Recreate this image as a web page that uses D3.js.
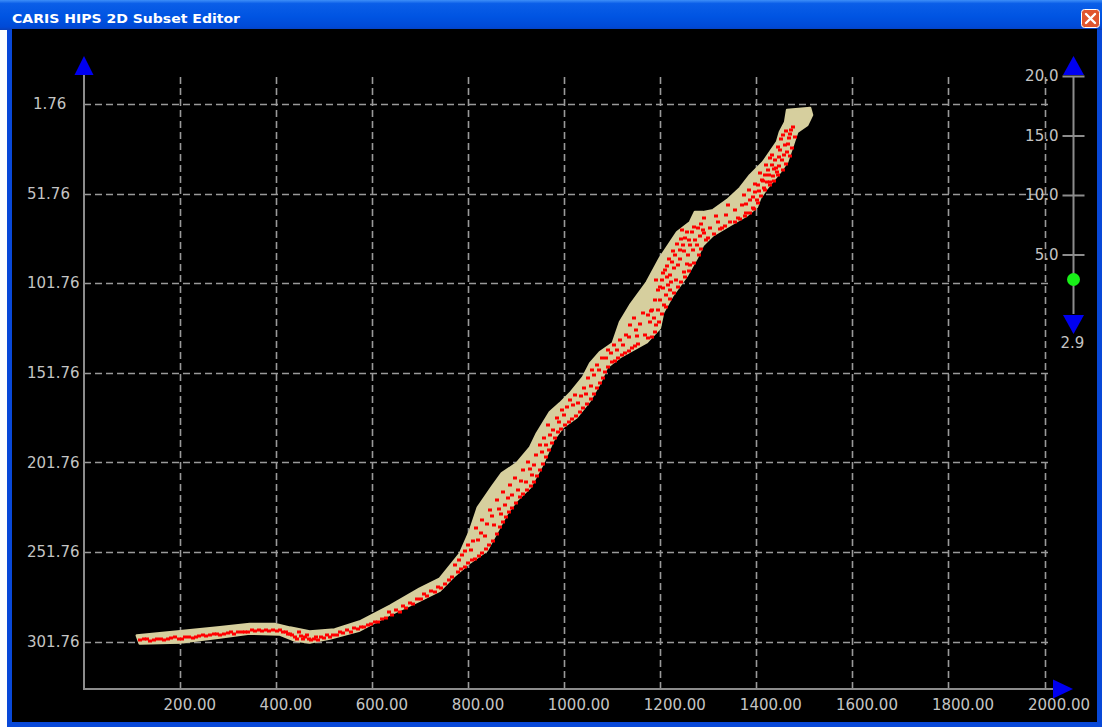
<!DOCTYPE html>
<html>
<head>
<meta charset="utf-8">
<script src="https://cdn.jsdelivr.net/npm/d3@7"></script>
<style>
  html, body { margin: 0; padding: 0; background: #ffffff; }
  svg { display: block; }
</style>
</head>
<body>
<svg id="editor" width="1102" height="727"></svg>
<script>
// ---- data -------------------------------------------------------------
const windowTitle = "CARIS HIPS 2D Subset Editor";

// horizontal axis: along-track distance
const distTicks = [200, 400, 600, 800, 1000, 1200, 1400, 1600, 1800, 2000];
// vertical axis: depth (grows downward)
const depthTicks = [1.76, 51.76, 101.76, 151.76, 201.76, 251.76, 301.76];
// threshold slider on the right
const sliderTicks = [5, 10, 15, 20];
const sliderValue = 2.9;

// outline of the accepted sounding cloud: shallow side, left to right
const cloudTop = [
  [110, 298.4], [200, 296.0], [283, 293.8], [345, 292.0], [397, 292.0],
  [429, 294.0], [470, 296.2], [522, 295.0], [574, 290.6], [637, 281.8],
  [699, 272.2], [741, 266.6], [783, 252.6], [804, 239.8], [820, 226.9],
  [849, 215.7], [870, 207.9], [901, 202.3], [929, 193.4], [943, 185.6],
  [970, 173.8], [991, 168.8], [1012, 163.2], [1039, 154.3], [1054, 146.5],
  [1074, 140.3], [1101, 135.3], [1116, 123.5], [1137, 114.1], [1172, 101.2],
  [1199, 87.8], [1235, 73.3], [1262, 67.7], [1272, 62.1], [1289, 62.1],
  [1310, 61.0], [1339, 55.4], [1366, 48.7], [1387, 41.4], [1414, 34.2],
  [1443, 23.0], [1449, 17.4], [1460, 11.8], [1464, 5.1], [1512, 4.0],
  [1516, 7.9]
];
// deep side, right to left
const cloudBottom = [
  [1506, 13.5], [1485, 17.4], [1476, 24.7], [1464, 34.2], [1449, 39.8],
  [1422, 48.7], [1408, 54.3], [1401, 59.3], [1381, 63.8], [1345, 69.4],
  [1310, 75.0], [1289, 80.5], [1276, 87.8], [1256, 97.3], [1241, 102.9],
  [1226, 108.5], [1206, 118.0], [1199, 126.9], [1172, 134.7], [1116, 143.1],
  [1089, 148.7], [1074, 157.6], [1054, 167.1], [1026, 176.6], [997, 182.2],
  [977, 189.5], [956, 202.3], [929, 215.7], [901, 223.0], [881, 230.3],
  [839, 250.9], [804, 257.6], [772, 264.9], [741, 273.3], [699, 278.9],
  [637, 286.7], [574, 295.6], [512, 300.1], [470, 302.3], [439, 301.2],
  [408, 297.9], [345, 297.3], [283, 299.5], [200, 302.3], [116, 302.9]
];

// selected (red) soundings: [distance, depth]
const nearshoreSel = [
  [117, 301.2], [131, 300.6], [146, 301.2], [160, 300.1], [175, 300.6],
  [190, 299.5], [204, 300.1], [219, 299.0], [233, 299.0], [248, 297.9],
  [262, 298.4], [277, 297.3], [292, 297.3], [306, 296.7], [321, 296.2],
  [335, 296.2], [350, 295.6], [364, 295.6], [379, 295.1], [394, 295.1],
  [408, 295.6], [421, 296.2], [429, 297.3], [439, 299.0], [448, 296.7],
  [456, 300.1], [465, 297.9], [473, 301.2], [483, 299.0], [494, 299.5],
  [506, 298.4], [519, 297.9], [533, 296.7], [548, 295.6], [562, 294.5],
  [577, 293.4], [591, 292.3], [606, 290.6], [621, 289.0], [635, 285.5],
  [650, 284.0], [664, 282.0], [679, 280.0], [694, 277.8], [708, 275.5],
  [723, 273.3], [737, 271.1],
  [124, 300.4], [138, 301.5], [153, 300.2], [167, 301.0], [182, 299.8],
  [197, 300.4], [211, 299.3], [226, 299.6], [240, 298.6], [255, 298.8],
  [270, 297.8], [284, 298.0], [299, 297.0], [313, 297.3], [328, 296.6],
  [342, 296.7], [357, 296.0], [371, 296.1], [386, 295.7], [401, 295.8],
  [414, 296.5], [425, 297.8], [434, 298.2], [444, 300.2], [452, 298.5],
  [460, 299.3], [469, 300.2], [478, 300.3], [488, 300.8], [500, 300.0],
  [512, 299.2], [526, 298.2], [540, 297.2], [555, 296.2], [570, 294.8],
  [584, 293.8], [598, 292.2], [613, 290.8], [628, 288.8], [642, 287.0],
  [657, 285.3], [671, 283.2], [686, 280.8], [701, 278.2], [715, 276.2],
  [730, 274.2], [744, 271.8]
];
const slopeSel = [
  [752, 269.4], [766, 266.0], [779, 263.2], [793, 259.9], [808, 256.5],
  [822, 254.3], [837, 250.4], [852, 245.9], [866, 238.1], [879, 232.0],
  [891, 227.5], [908, 221.3], [922, 217.4], [937, 212.9], [949, 206.3],
  [962, 199.0], [974, 191.2], [987, 185.0], [1002, 181.1], [1016, 177.8],
  [1033, 173.8], [1047, 169.4], [1062, 163.8], [1074, 157.6], [1085, 151.5],
  [1099, 145.9], [1112, 143.7], [1127, 140.9], [1141, 138.1], [1154, 135.8],
  [772, 259.3], [787, 253.7], [799, 248.1], [810, 245.4], [816, 238.6],
  [829, 234.2], [835, 242.6], [845, 228.6], [854, 237.0], [860, 223.0],
  [872, 218.5], [877, 225.8], [887, 214.6], [897, 210.7], [904, 217.4],
  [914, 206.3], [924, 201.8], [933, 209.0], [941, 197.9], [949, 192.3],
  [958, 188.4], [966, 181.1], [976, 183.9], [985, 177.2], [995, 172.7],
  [1006, 171.0], [1012, 167.1], [1022, 164.3], [1029, 168.8], [1041, 160.4],
  [1049, 154.8], [1058, 150.4], [1068, 147.6], [1079, 143.7], [1091, 139.2],
  [1104, 136.4], [1116, 133.6], [1129, 130.8], [1137, 125.2], [1145, 121.3],
  [759, 267.5], [786, 261.5], [800, 258.0], [815, 255.5], [829, 252.5],
  [844, 248.0], [859, 242.0], [872, 235.0], [885, 229.5], [900, 224.5],
  [915, 219.5], [930, 215.0], [943, 209.5], [955, 202.5], [968, 195.0],
  [980, 188.0], [994, 183.0], [1009, 179.5], [1024, 175.8], [1040, 171.5],
  [1055, 166.5], [1068, 160.5], [1080, 154.5], [1092, 148.5], [1105, 145.0],
  [1120, 142.0], [1134, 139.5], [1148, 137.0],
  [780, 256.0], [794, 251.5], [805, 250.5], [820, 245.0], [826, 241.0],
  [840, 236.0], [850, 231.5], [865, 228.0], [868, 230.5], [882, 221.5],
  [892, 220.0], [910, 212.0], [920, 213.0], [928, 205.5], [938, 203.5],
  [953, 196.0], [962, 192.0], [971, 186.5], [990, 179.5], [1000, 175.5],
  [1018, 170.0], [1035, 164.5], [1045, 163.5], [1055, 159.0], [1062, 153.0],
  [1072, 150.5], [1086, 143.5], [1098, 141.0], [1110, 139.0], [1122, 136.0],
  [1135, 132.0], [1150, 128.0], [1158, 124.5], [1163, 118.5], [1152, 131.0]
];
const upperSel = [
  [1168, 130.8], [1179, 123.6], [1183, 116.9], [1189, 111.3], [1174, 119.6],
  [1195, 105.7], [1204, 100.1], [1210, 94.5], [1216, 102.9], [1199, 111.3],
  [1212, 108.5], [1220, 97.3], [1224, 90.0], [1231, 86.1], [1237, 91.7],
  [1241, 83.3], [1247, 80.5], [1252, 76.6], [1258, 86.1], [1262, 80.5],
  [1266, 73.3], [1272, 77.7], [1279, 71.0], [1283, 75.5], [1289, 72.2],
  [1295, 77.7], [1304, 71.0], [1312, 74.4], [1320, 67.7], [1329, 71.0],
  [1337, 63.8], [1345, 67.7], [1356, 61.0], [1362, 65.5], [1370, 58.2],
  [1379, 62.7], [1387, 55.4], [1393, 59.9], [1397, 51.0], [1404, 47.0],
  [1412, 44.2], [1418, 41.4], [1424, 38.6], [1429, 45.3], [1433, 35.8],
  [1439, 33.0], [1443, 39.7], [1449, 27.5], [1454, 33.0], [1460, 24.7],
  [1464, 28.6], [1468, 20.8], [1472, 16.3], [1456, 19.1], [1441, 37.5],
  [1429, 31.9], [1416, 48.7], [1401, 55.4], [1262, 91.7], [1249, 95.6],
  [1233, 100.1], [1220, 105.7], [1208, 114.1], [1191, 125.2], [1174, 132.5],
  [1245, 72.2], [1291, 65.5], [1316, 64.3], [1341, 58.2], [1374, 52.6],
  [1480, 20.0], [1474, 26.5], [1470, 31.0], [1462, 35.5], [1455, 38.5],
  [1445, 41.5], [1436, 44.5], [1428, 47.0], [1418, 50.0], [1410, 53.0],
  [1404, 57.0], [1395, 60.5], [1386, 62.5], [1376, 64.0], [1366, 66.0],
  [1356, 67.5], [1335, 70.0], [1325, 71.8], [1300, 76.5], [1285, 82.5],
  [1280, 86.0], [1270, 90.5], [1260, 95.0], [1252, 98.5], [1244, 101.0],
  [1236, 104.0], [1228, 107.0], [1220, 110.5], [1212, 115.0], [1204, 119.0],
  [1198, 123.5], [1190, 129.0], [1182, 132.0],
  [1205, 96.0], [1213, 92.0], [1218, 88.0], [1226, 84.0], [1228, 93.5],
  [1234, 80.0], [1240, 88.5], [1243, 77.0], [1250, 84.0], [1255, 73.0],
  [1256, 91.0], [1260, 77.5], [1268, 83.0], [1270, 70.5], [1276, 80.5],
  [1285, 69.0], [1292, 74.0], [1222, 101.0], [1214, 98.5], [1206, 104.5],
  [1196, 117.0], [1186, 121.0], [1180, 117.5], [1192, 100.0], [1200, 104.0],
  [1452, 21.5], [1458, 30.5], [1466, 24.0], [1470, 18.5], [1476, 14.5],
  [1462, 17.0], [1448, 31.5], [1445, 25.5], [1437, 38.0], [1432, 30.5],
  [1426, 41.5], [1420, 36.0], [1414, 45.0], [1408, 40.5], [1405, 50.5],
  [1398, 46.5], [1392, 53.5], [1384, 50.0], [1378, 57.5], [1448, 36.5],
  [1435, 42.0], [1422, 45.5]
];

// ---- layout -----------------------------------------------------------
const W = 1102, H = 727;
const svg = d3.select("#editor");
const defs = svg.append("defs");

const labelFont = "'DejaVu Sans', sans-serif";
const labelColor = "#c4c4c4";
const gridColor = "#9a9a9a";
const axisColor = "#8c8c8c";
const arrowBlue = "#0000f0";

// window chrome
const tb = defs.append("linearGradient").attr("id", "titleGrad")
  .attr("x1", 0).attr("y1", 0).attr("x2", 0).attr("y2", 1);
tb.append("stop").attr("offset", "0%").attr("stop-color", "#3d8ef8");
tb.append("stop").attr("offset", "12%").attr("stop-color", "#0a5ee8");
tb.append("stop").attr("offset", "55%").attr("stop-color", "#0054e2");
tb.append("stop").attr("offset", "90%").attr("stop-color", "#0049d6");
tb.append("stop").attr("offset", "100%").attr("stop-color", "#0a3fb8");

svg.append("rect").attr("x", 0).attr("y", 0).attr("width", W).attr("height", H).attr("fill", "#ffffff");
svg.append("rect").attr("x", 7).attr("y", 20).attr("width", W - 7).attr("height", H - 20).attr("fill", "#0848d8");
svg.append("rect").attr("x", 0).attr("y", 0).attr("width", W).attr("height", 30).attr("fill", "url(#titleGrad)");
svg.append("rect").attr("x", 12).attr("y", 29).attr("width", 1085).attr("height", 693).attr("fill", "#000000");

svg.append("text").attr("x", 12).attr("y", 23)
  .attr("font-family", "'DejaVu Sans', sans-serif").attr("font-weight", "bold")
  .attr("font-size", 13).attr("fill", "#ffffff")
  .attr("textLength", 228).attr("lengthAdjust", "spacingAndGlyphs")
  .text(windowTitle);

// close button
const cb = svg.append("g").attr("transform", "translate(1081,9)");
cb.append("rect").attr("x", 0.5).attr("y", 0.5).attr("width", 18).attr("height", 18).attr("rx", 3)
  .attr("fill", "#e0552e").attr("stroke", "#ffffff").attr("stroke-width", 1);
cb.append("path").attr("d", "M5,5 L14,14 M14,5 L5,14")
  .attr("stroke", "#ffffff").attr("stroke-width", 2.4).attr("stroke-linecap", "round");

// ---- scales -----------------------------------------------------------
const x = d3.scaleLinear().domain([0, 2000]).range([84, 1044.5]);
const y = d3.scaleLinear().domain([1.76, 301.76]).range([104, 641.5]);
const axisTop = 75, axisBottom = 689, axisLeft = x(0);
const s = d3.scaleLinear().domain([0, 20]).range([314, 76]);
const sliderX = 1073.5;

// ---- grid -------------------------------------------------------------
const grid = svg.append("g").attr("stroke", gridColor).attr("stroke-width", 1.6)
  .attr("stroke-dasharray", "7,4").attr("fill", "none");
grid.selectAll("line.h").data(depthTicks).join("line").attr("class", "h")
  .attr("x1", axisLeft).attr("x2", 1050)
  .attr("y1", d => Math.round(y(d)) + 0.5).attr("y2", d => Math.round(y(d)) + 0.5);
grid.selectAll("line.v").data(distTicks).join("line").attr("class", "v")
  .attr("y1", axisBottom).attr("y2", axisTop + 2)
  .attr("x1", d => Math.round(x(d)) + 0.5).attr("x2", d => Math.round(x(d)) + 0.5);

// ---- soundings --------------------------------------------------------
const outline = cloudTop.concat(cloudBottom);
svg.append("path")
  .attr("d", d3.line().x(d => x(d[0])).y(d => y(d[1]))(outline) + "Z")
  .attr("fill", "#d6cf9e").attr("stroke", "#d6cf9e").attr("stroke-width", 2.5)
  .attr("stroke-linejoin", "round");

const selected = nearshoreSel.concat(slopeSel, upperSel);
svg.append("g").selectAll("rect").data(selected).join("rect")
  .attr("x", d => Math.round(x(d[0])) - 2)
  .attr("y", d => Math.round(y(d[1])) - 1.5)
  .attr("width", 4).attr("height", 3)
  .attr("fill", "#ff0000");

// ---- axes -------------------------------------------------------------
const axes = svg.append("g").attr("stroke", axisColor).attr("stroke-width", 2);
axes.append("line").attr("x1", axisLeft).attr("x2", axisLeft).attr("y1", axisTop).attr("y2", axisBottom + 1);
axes.append("line").attr("x1", axisLeft - 1).attr("x2", 1055).attr("y1", axisBottom).attr("y2", axisBottom);

const xAxis = d3.axisBottom(x).tickValues(distTicks).tickSize(0).tickPadding(0)
  .tickFormat(d3.format(".2f"));
const gx = svg.append("g").attr("transform", `translate(0,${axisBottom})`).call(xAxis);
gx.select(".domain").remove();
gx.selectAll("text").attr("font-family", labelFont).attr("font-size", 15)
  .attr("fill", labelColor).attr("text-anchor", "start")
  .attr("dx", -17).attr("dy", 0).attr("y", 21);

const yAxis = d3.axisLeft(y).tickValues(depthTicks).tickSize(0).tickPadding(0)
  .tickFormat(d3.format(".2f"));
const gy = svg.append("g").attr("transform", `translate(${axisLeft},0)`).call(yAxis);
gy.select(".domain").remove();
gy.selectAll("text").attr("font-family", labelFont).attr("font-size", 15)
  .attr("fill", labelColor).attr("text-anchor", "start")
  .attr("x", d => (d < 10 ? 33 : 27) - axisLeft);

// axis arrows
svg.append("path")
  .attr("d", `M${axisLeft},56 L${axisLeft + 9.5},75 L${axisLeft - 9.5},75 Z`).attr("fill", arrowBlue);
svg.append("path")
  .attr("d", `M1073,${axisBottom} L1053,${axisBottom - 9.5} L1053,${axisBottom + 9.5} Z`).attr("fill", arrowBlue);

// ---- threshold slider -------------------------------------------------
const sl = svg.append("g");
sl.append("line").attr("x1", sliderX).attr("x2", sliderX).attr("y1", s(20)).attr("y2", s(0))
  .attr("stroke", axisColor).attr("stroke-width", 2);
const sAxis = d3.axisLeft(s).tickValues(sliderTicks).tickSize(0).tickPadding(0).tickFormat(d3.format(".1f"));
const gs = sl.append("g").attr("transform", `translate(${sliderX},0)`).call(sAxis);
gs.select(".domain").remove();
gs.selectAll(".tick line").attr("x1", -11).attr("x2", 11).attr("stroke", axisColor).attr("stroke-width", 2);
gs.selectAll("text").attr("font-family", labelFont).attr("font-size", 15)
  .attr("fill", labelColor).attr("text-anchor", "end").attr("x", -15);
sl.append("path")
  .attr("d", `M${sliderX},56 L${sliderX + 10.5},75 L${sliderX - 10.5},75 Z`).attr("fill", arrowBlue);
sl.append("path")
  .attr("d", `M${sliderX},334 L${sliderX + 10.5},315 L${sliderX - 10.5},315 Z`).attr("fill", arrowBlue);
sl.append("circle").attr("cx", sliderX).attr("cy", s(sliderValue)).attr("r", 6.5).attr("fill", "#18f018");
sl.append("text").attr("x", sliderX - 1).attr("y", 348)
  .attr("font-family", labelFont).attr("font-size", 15).attr("fill", labelColor)
  .attr("text-anchor", "middle").text(d3.format(".1f")(sliderValue));
</script>
</body>
</html>
